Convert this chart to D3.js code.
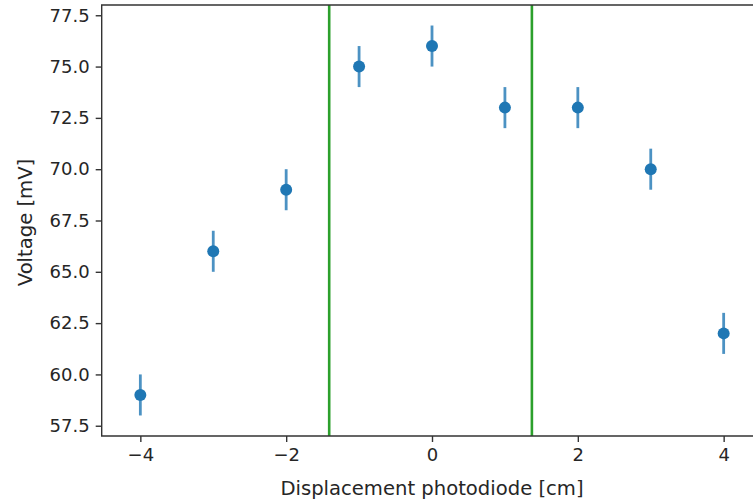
<!DOCTYPE html>
<html>
<head>
<meta charset="utf-8">
<script src="https://cdn.jsdelivr.net/npm/d3@7"></script>
<style>
  body { margin: 0; background: #fff; }
  svg { display: block; font-family: "DejaVu Sans", sans-serif; }
</style>
</head>
<body>
<div id="chart"></div>
<script>
// measured data: displacement (cm) vs voltage (mV), error +-1 mV
const displacement = [-4, -3, -2, -1, 0, 1, 2, 3, 4];
const voltage = [59, 66, 69, 75, 76, 73, 73, 70, 62];
const voltageErr = [1, 1, 1, 1, 1, 1, 1, 1, 1];
const markerLines = [-1.41, 1.37];   // green vertical lines
const xTicks = [-4, -2, 0, 2, 4];
const yTicks = [57.5, 60.0, 62.5, 65.0, 67.5, 70.0, 72.5, 75.0, 77.5];

const width = 753, height = 502;
const plotLeft = 101.7, plotRight = 762.3, plotTop = 5, plotBottom = 436;
const tickFont = 18, labelFont = 19.6;

const svg = d3.select("#chart")
  .append("svg")
    .attr("width", width)
    .attr("height", height);

const x = d3.scaleLinear().domain([-4.53, 4.53]).range([plotLeft, plotRight]);
const y = d3.scaleLinear().domain([57.0, 78.0]).range([plotBottom, plotTop]);

// green vertical lines
svg.selectAll("line.vline")
  .data(markerLines)
  .join("line")
    .attr("class", "vline")
    .attr("x1", d => x(d)).attr("x2", d => x(d))
    .attr("y1", plotTop).attr("y2", plotBottom)
    .attr("stroke", "#2ca02c")
    .attr("stroke-width", 2.6);

const pts = displacement.map((d, i) => ({ x: d, y: voltage[i], e: voltageErr[i] }));

// error bars
svg.selectAll("line.err")
  .data(pts)
  .join("line")
    .attr("class", "err")
    .attr("x1", d => x(d.x)).attr("x2", d => x(d.x))
    .attr("y1", d => y(d.y - d.e)).attr("y2", d => y(d.y + d.e))
    .attr("stroke", "#1f77b4")
    .attr("stroke-opacity", 0.8)
    .attr("stroke-width", 2.8);

// markers
svg.selectAll("circle.pt")
  .data(pts)
  .join("circle")
    .attr("class", "pt")
    .attr("cx", d => x(d.x))
    .attr("cy", d => y(d.y))
    .attr("r", 6)
    .attr("fill", "#1f77b4");

// axes
const xAxis = svg.append("g")
  .attr("transform", `translate(0,${plotBottom})`)
  .call(d3.axisBottom(x).tickValues(xTicks).tickSizeOuter(0).tickSize(6).tickPadding(6)
    .tickFormat(d => d < 0 ? "\u2212" + Math.abs(d) : d));

const yAxis = svg.append("g")
  .attr("transform", `translate(${plotLeft},0)`)
  .call(d3.axisLeft(y).tickValues(yTicks).tickSizeOuter(0).tickSize(6).tickPadding(6)
    .tickFormat(d3.format(".1f")));

[xAxis, yAxis].forEach(g => {
  g.select(".domain").remove();
  g.selectAll(".tick line").attr("stroke", "#333").attr("stroke-width", 1.4);
  g.selectAll(".tick text")
    .attr("fill", "#262626")
    .style("font-family", "DejaVu Sans, sans-serif")
    .style("font-size", tickFont + "px");
});

// spines (left, top, bottom; right side falls outside the picture)
svg.append("path")
  .attr("d", `M${plotRight},${plotTop}H${plotLeft}V${plotBottom}H${plotRight}`)
  .attr("fill", "none")
  .attr("stroke", "#333")
  .attr("stroke-width", 1.4);

// axis labels
svg.append("text")
  .attr("x", (plotLeft + plotRight) / 2)
  .attr("y", 495)
  .attr("text-anchor", "middle")
  .attr("fill", "#262626")
  .style("font-size", labelFont + "px")
  .text("Displacement photodiode [cm]");

svg.append("text")
  .attr("transform", `translate(32,${(plotTop + plotBottom) / 2 + 2}) rotate(-90)`)
  .attr("text-anchor", "middle")
  .attr("fill", "#262626")
  .style("font-size", labelFont + "px")
  .text("Voltage [mV]");
</script>
</body>
</html>
